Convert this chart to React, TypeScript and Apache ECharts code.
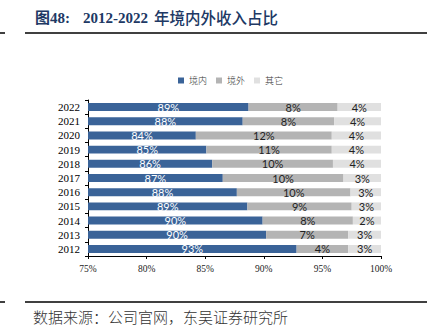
import React, { useEffect, useRef } from "react";
import * as echarts from "echarts";

const years = ["2012", "2013", "2014", "2015", "2016", "2017", "2018", "2019", "2020", "2021", "2022"];
const domestic = [92.8, 90.2, 89.9, 88.6, 87.7, 86.5, 85.6, 85.1, 84.2, 88.2, 88.7];
const overseas = [4.4, 7.0, 7.7, 8.9, 9.7, 10.3, 10.3, 10.7, 11.6, 7.8, 7.6];
const others = [2.8, 2.8, 2.4, 2.5, 2.6, 3.2, 4.1, 4.2, 4.2, 4.0, 3.7];
const seriesNames = ["境内", "境外", "其它"];
const xTicks = [75, 80, 85, 90, 95, 100];

const titleLabel = "图48:";
const titleYears = "2012-2022";
const titleText = "年境内外收入占比";
const sourceText = "数据来源：公司官网，东吴证券研究所";

export default function App() {
  const ref = useRef<HTMLDivElement>(null);
  useEffect(() => {
    if (!ref.current) return;
    const chart = echarts.init(ref.current, null, { renderer: "svg" });
    const pct = (p: any) => Math.round(p.value) + "%";
    const labelFont = "Lato, 'Liberation Sans', sans-serif";
    const mk = (name: string, data: number[], color: string, labelColor: string) => ({
      name,
      type: "bar",
      stack: "total",
      data,
      barWidth: "56%",
      itemStyle: { color },
      label: {
        show: true,
        position: "inside",
        formatter: pct,
        color: labelColor,
        fontSize: 11,
        fontFamily: labelFont,
      },
    });
    chart.setOption({
      animation: false,
      backgroundColor: "#ffffff",
      grid: { left: 88, right: 52, top: 100, bottom: 79, containLabel: false },
      legend: {
        data: seriesNames,
        left: 173,
        top: 71,
        itemWidth: 6,
        itemHeight: 6,
        itemGap: 9,
        icon: "rect",
        textStyle: { fontSize: 9, color: "#333", fontWeight: 300, fontFamily: "'Noto Sans CJK SC', sans-serif" },
      },
      xAxis: {
        type: "value",
        min: xTicks[0],
        max: xTicks[xTicks.length - 1],
        interval: 5,
        axisLine: { show: true, lineStyle: { color: "#000", width: 1 } },
        axisTick: { show: true, length: 3, lineStyle: { color: "#000" } },
        splitLine: { show: false },
        axisLabel: {
          formatter: (v: number) => v + "%",
          fontFamily: "'Liberation Serif', serif",
          fontSize: 9.5,
          color: "#222",
          margin: 8,
        },
      },
      yAxis: {
        type: "category",
        data: years,
        axisLine: { show: true, lineStyle: { color: "#000", width: 1 } },
        axisTick: { show: true, length: 3, interval: 0, lineStyle: { color: "#000" } },
        axisLabel: {
          interval: 0,
          fontFamily: "'Liberation Serif', serif",
          fontSize: 11,
          color: "#000",
          margin: 8,
        },
      },
      series: [
        mk(seriesNames[0], domestic, "#3a6398", "#ffffff"),
        mk(seriesNames[1], overseas, "#b4b4b4", "#222222"),
        mk(seriesNames[2], others, "#e0e0e0", "#222222"),
      ],
      graphic: [
        {
          type: "text",
          left: 35,
          top: 10,
          style: {
            text: titleLabel,
            font: "bold 15px 'Liberation Serif', 'Noto Sans CJK SC', serif",
            fill: "#203864",
          },
        },
        {
          type: "text",
          left: 83,
          top: 10,
          style: {
            text: titleYears,
            font: "bold 15px 'Liberation Serif', serif",
            fill: "#203864",
          },
        },
        {
          type: "text",
          left: 154,
          top: 9,
          style: {
            text: titleText,
            font: "500 15.5px 'Noto Sans CJK SC', sans-serif",
            fill: "#203864",
          },
        },
        { type: "line", shape: { x1: 0, y1: 33, x2: 5, y2: 33 }, style: { stroke: "#000", lineWidth: 1.5 } },
        { type: "line", shape: { x1: 25, y1: 33, x2: 427, y2: 33 }, style: { stroke: "#000", lineWidth: 1.5 } },
        { type: "line", shape: { x1: 0, y1: 302, x2: 5, y2: 302 }, style: { stroke: "#000", lineWidth: 1.5 } },
        { type: "line", shape: { x1: 25, y1: 302, x2: 427, y2: 302 }, style: { stroke: "#000", lineWidth: 1.5 } },
        {
          type: "text",
          left: 33,
          top: 309,
          style: {
            text: sourceText,
            font: "300 15px 'Noto Sans CJK SC', sans-serif",
            fill: "#333",
          },
        },
      ],
    });
    return () => chart.dispose();
  }, []);
  return <div ref={ref} style={{ position: "fixed", left: 0, top: 0, width: 433, height: 335 }} />;
}
